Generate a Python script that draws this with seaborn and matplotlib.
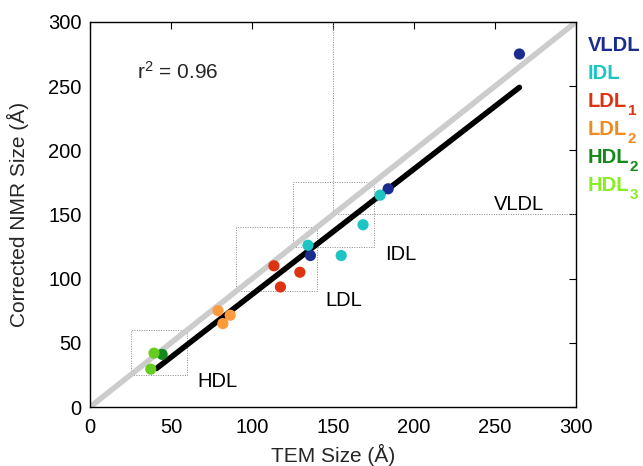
import matplotlib
matplotlib.use("Agg")
import matplotlib.pyplot as plt
import seaborn as sns
import pandas as pd

sns.set_theme(style="white")
plt.rcParams['font.family'] = ['Liberation Sans', 'DejaVu Sans']
plt.rcParams['mathtext.fontset'] = 'custom'
plt.rcParams['mathtext.rm'] = 'Liberation Sans'
plt.rcParams['mathtext.bf'] = 'Liberation Sans:bold'
plt.rcParams['mathtext.it'] = 'Liberation Sans:italic'

# Data
classes = ["VLDL", "IDL", "LDL1", "LDL2", "HDL2", "HDL3"]
class_main = ["VLDL", "IDL", "LDL", "LDL", "HDL", "HDL"]
class_sub = ["", "", "1", "2", "2", "3"]
vldl_tem = [265, 184, 136]
vldl_nmr = [275, 170, 118]
idl_tem = [134.5, 155, 168.5, 179]
idl_nmr = [126, 118, 142, 165]
ldl1_tem = [113.5, 129.5, 117.5]
ldl1_nmr = [110, 105, 93.5]
ldl2_tem = [79, 86.5, 82]
ldl2_nmr = [75, 71.5, 65]
hdl2_tem = [44.5]
hdl2_nmr = [41]
hdl3_tem = [39.5, 37.5]
hdl3_nmr = [42, 29.5]

marker_colors = ["#1a2d8f", "#1ec4c4", "#dd3311", "#ff9a3c", "#15891a", "#66cc22"]
text_colors = ["#1a2d8f", "#1ec4c4", "#dd3311", "#f08a20", "#15891a", "#88ee22"]

identity_x = [0, 300]
identity_y = [0, 300]
fit_x = [41, 265]
fit_y = [30, 249]

# boxes: (x0, x1, y0, y1)
box_names = ["HDL", "LDL", "IDL", "VLDL"]
box_x0 = [25, 90, 125, 150]
box_x1 = [60, 140, 175, 300]
box_y0 = [25, 90, 125, 150]
box_y1 = [60, 140, 175, 300]
label_x = [66, 145.5, 182, 249]
label_y = [19.5, 83, 119, 158]

xticks = [0, 50, 100, 150, 200, 250, 300]
yticks = [0, 50, 100, 150, 200, 250, 300]

tems = [vldl_tem, idl_tem, ldl1_tem, ldl2_tem, hdl2_tem, hdl3_tem]
nmrs = [vldl_nmr, idl_nmr, ldl1_nmr, ldl2_nmr, hdl2_nmr, hdl3_nmr]
rows = []
for c, t, n in zip(classes, tems, nmrs):
    for a, b in zip(t, n):
        rows.append({"cls": c, "TEM": a, "NMR": b})
df = pd.DataFrame(rows)

fig = plt.figure(figsize=(6.43, 4.66), dpi=100)
ax = fig.add_axes([0.14, 0.1266, 0.756, 0.8264])

# dotted boxes
for x0, x1, y0, y1 in zip(box_x0, box_x1, box_y0, box_y1):
    ax.plot([x0, x1, x1, x0, x0], [y0, y0, y1, y1, y0], color="#888888",
            linestyle=(0, (1, 1.5)), linewidth=0.7, zorder=1)
for name, lx, ly in zip(box_names, label_x, label_y):
    ax.text(lx, ly, name, fontsize=14.5, color="black", ha="left", va="center")

sns.lineplot(x=identity_x, y=identity_y, ax=ax, color="#cccccc", linewidth=4, zorder=2)
sns.lineplot(x=fit_x, y=fit_y, ax=ax, color="black", linewidth=4, zorder=3)

sns.scatterplot(data=df, x="TEM", y="NMR", hue="cls", hue_order=classes,
                palette=marker_colors, s=65, edgecolor="none", legend=False,
                ax=ax, zorder=4)

ax.text(29, 261, "r$^2$ = 0.96", fontsize=15, ha="left", va="center")

ax.set_xlim(0, 300)
ax.set_ylim(0, 300)
ax.set_xticks(xticks)
ax.set_yticks(yticks)
ax.tick_params(direction="in", length=5, width=0.8, top=True, right=True,
               labelsize=14.5, colors="black")
ax.tick_params(axis="x", pad=8)
ax.tick_params(axis="y", pad=6)
for sp in ax.spines.values():
    sp.set_color("black")
    sp.set_linewidth(1.0)
ax.set_xlabel("TEM Size (Å)", fontsize=15, labelpad=5)
ax.set_ylabel("Corrected NMR Size (Å)", fontsize=15, labelpad=14)

legend_baseline_px = [51, 79, 107, 135, 163, 191]
renderer = fig.canvas.get_renderer()
for main, sub, col, by in zip(class_main, class_sub, text_colors, legend_baseline_px):
    t = fig.text(588 / 643, 1 - by / 466, main, color=col, fontsize=14.5,
                 fontweight="bold", ha="left", va="baseline")
    if sub:
        bb = t.get_window_extent(renderer=renderer)
        fig.text((bb.x1 + 0.5) / 643, 1 - (by + 8) / 466, sub, color=col,
                 fontsize=11, fontweight="bold", ha="left", va="baseline")

fig.savefig("out.png", dpi=100)
